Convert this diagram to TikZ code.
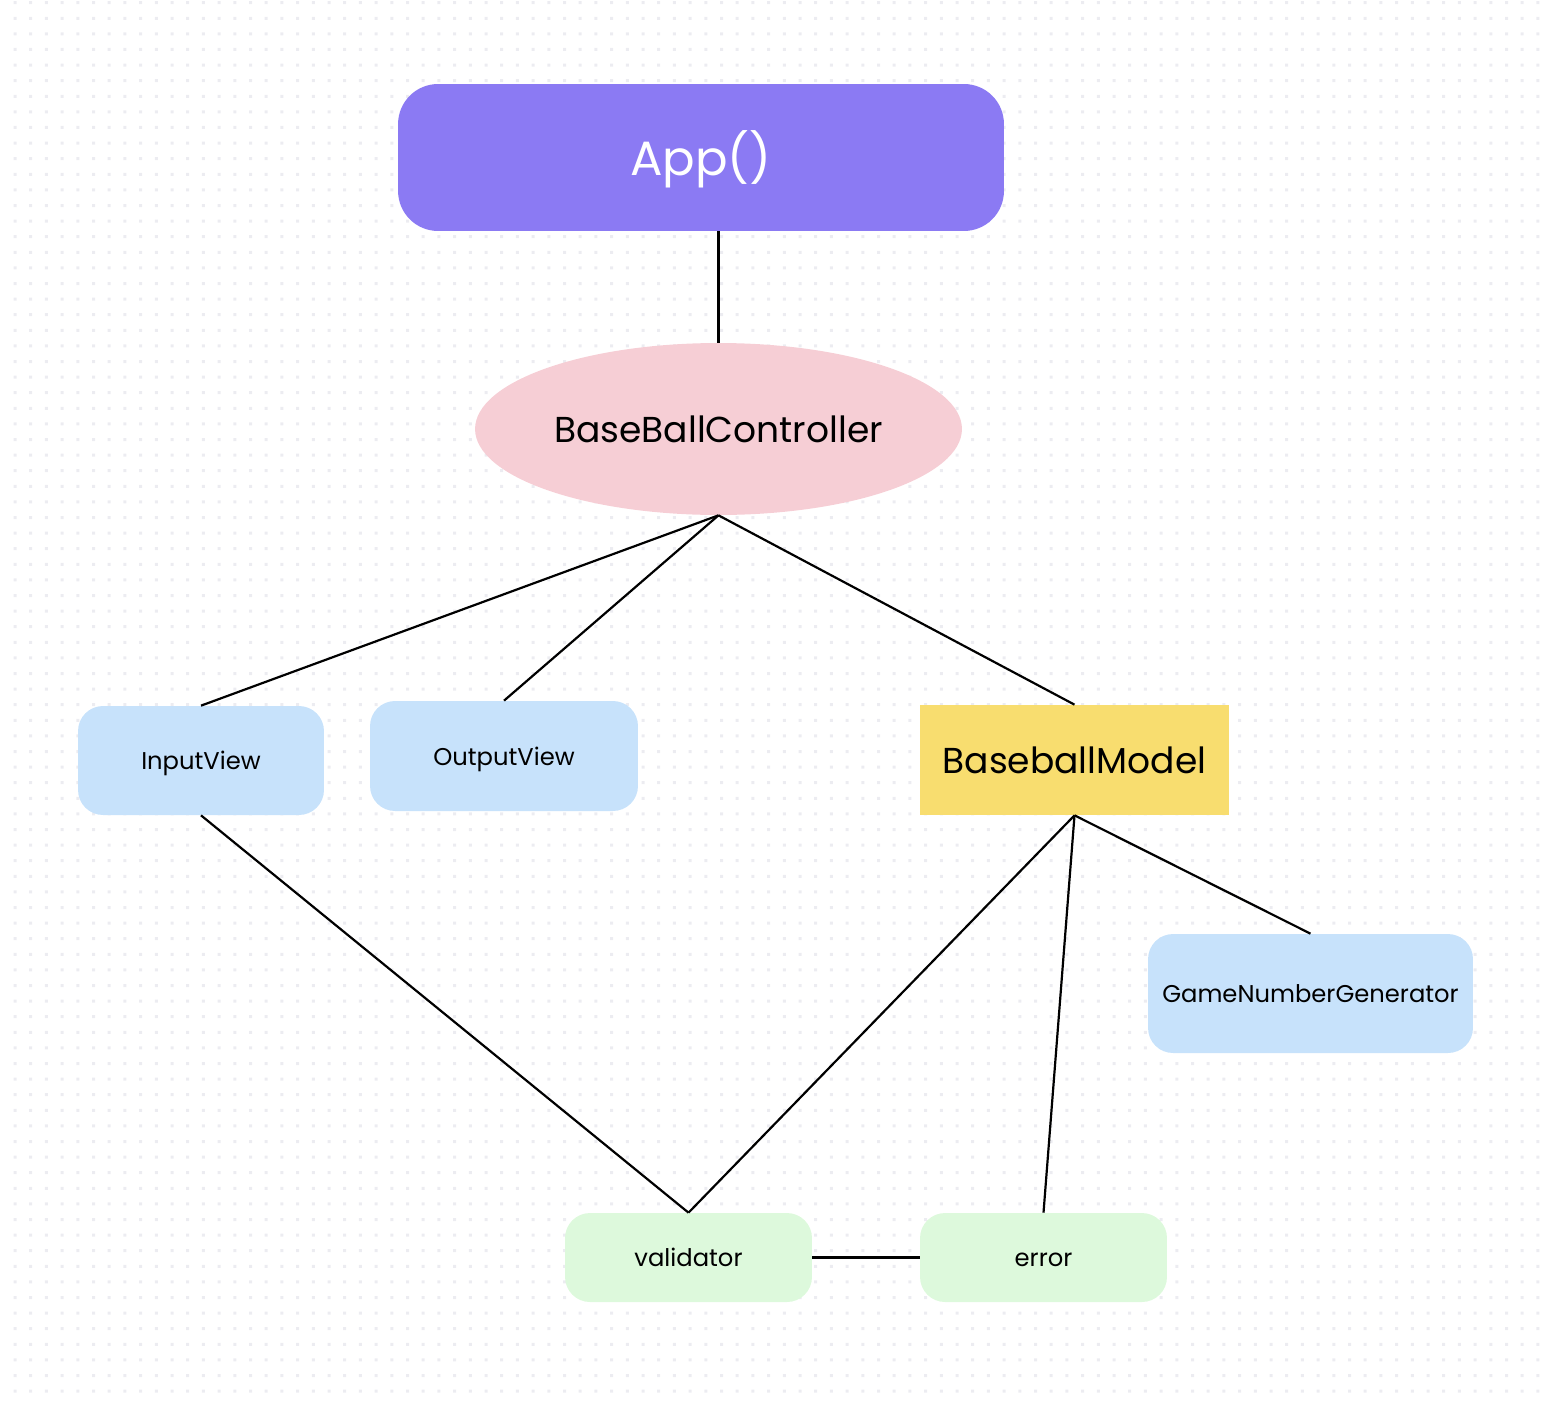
\documentclass[tikz,border=0pt]{standalone}
\usepackage{fontspec}
\setmainfont{Poppins}
\usetikzlibrary{shapes.geometric,positioning}
\definecolor{appc}{HTML}{8B7AF3}
\definecolor{ctrlc}{HTML}{F6CED5}
\definecolor{viewc}{HTML}{C7E2FB}
\definecolor{modelc}{HTML}{F8DD6F}
\definecolor{utilc}{HTML}{DDF9DC}
\definecolor{dotc}{HTML}{ECECF1}

\begin{document}
\begin{tikzpicture}[
    x=0.02cm, y=-0.02cm,
    appbox/.style={rounded corners=0.8cm, minimum width=12.12cm, minimum height=2.94cm, fill=appc, text=white, text height=20.5pt, text depth=0pt, font=\fontsize{27.4}{32}\selectfont},
    ctrl/.style={ellipse, minimum width=9.74cm, minimum height=3.44cm, fill=ctrlc, text height=15.4pt, text depth=0pt, font=\fontsize{20.5}{24}\selectfont},
    view/.style={rounded corners=0.5cm, minimum height=2.18cm, fill=viewc, text height=10.3pt, text depth=0pt, font=\fontsize{13.8}{16}\selectfont},
    model/.style={minimum width=6.18cm, minimum height=2.2cm, fill=modelc, text height=15.4pt, text depth=0pt, font=\fontsize{20.5}{24}\selectfont},
    util/.style={rounded corners=0.5cm, minimum width=4.94cm, minimum height=1.78cm, fill=utilc, text height=10.3pt, text depth=0pt, font=\fontsize{13.8}{16}\selectfont},
    link/.style={draw=black, line width=1.25pt}
]
\useasboundingbox (0,0) rectangle (1550,1402);
% dotted canvas
\foreach \j in {0,...,89} {
  \fill[dotc] \foreach \i in {0,...,98} {(13.5+15.7*\i,1.2+15.6*\j) rectangle ++(3,3)};
}

\node[appbox] (app) at (701,157.5) {App()};
\node[ctrl] (ctrl) at (718.5,429) {BaseBallController};
\node[view, minimum width=4.92cm] (input) at (201,760.5) {InputView};
\node[view, minimum width=5.36cm, minimum height=2.2cm] (output) at (504,756) {OutputView};
\node[model] (model) at (1074.5,760) {BaseballModel};
\node[view, minimum width=6.5cm, minimum height=2.38cm] (gen) at (1310.5,993.5) {GameNumberGenerator};
\node[util] (valid) at (688.5,1257.5) {validator};
\node[util] (err) at (1043.5,1257.5) {error};

\draw[link] (ctrl.north) -- (ctrl.north |- app.south);
\draw[link] (ctrl.south) -- (input.north);
\draw[link] (ctrl.south) -- (output.north);
\draw[link] (ctrl.south) -- (model.north);
\draw[link] (input.south) -- (valid.north);
\draw[link] (model.south) -- (valid.north);
\draw[link] (model.south) -- (err.north);
\draw[link] (model.south) -- (gen.north);
\draw[link] (valid.east) -- (err.west);
\end{tikzpicture}
\end{document}
